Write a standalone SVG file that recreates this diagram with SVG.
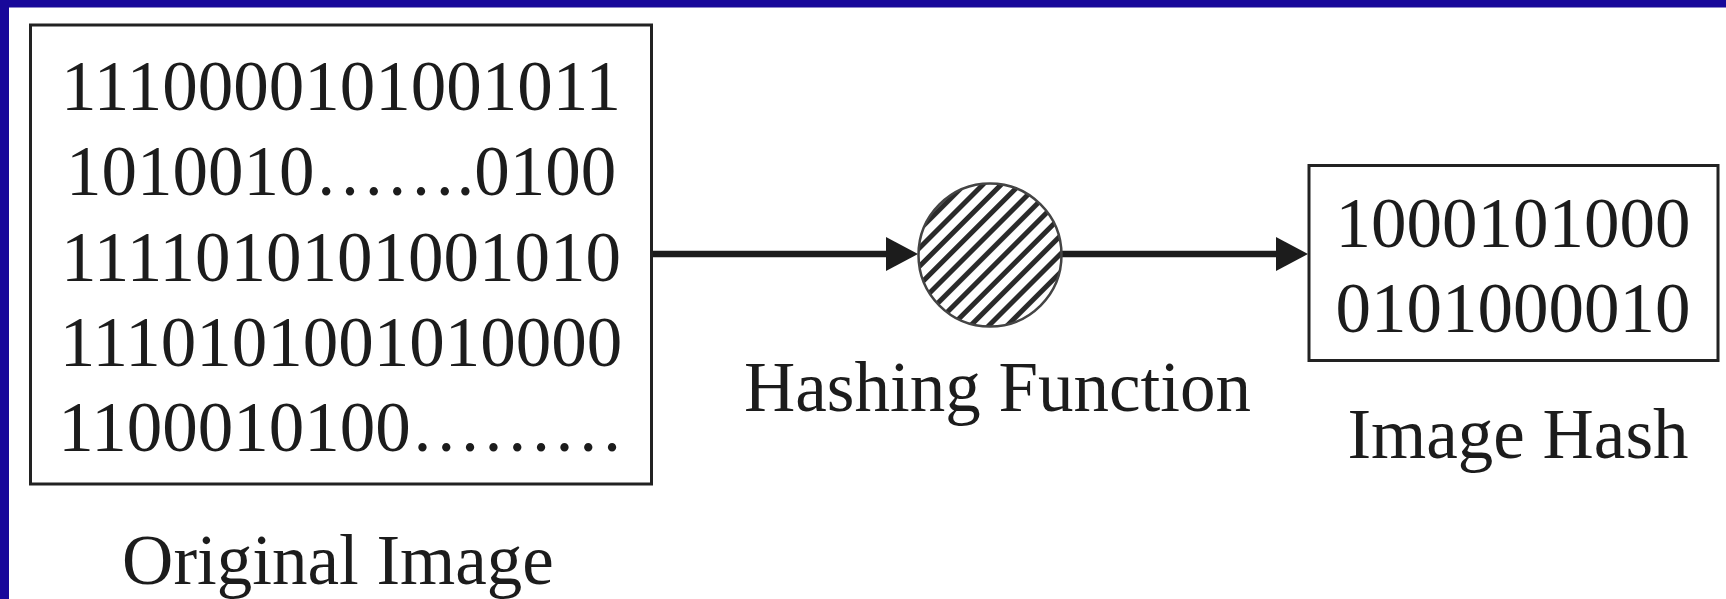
<svg xmlns="http://www.w3.org/2000/svg" width="1726" height="599" viewBox="0 0 1726 599">
  <style>
    .txt { font-family: "Liberation Serif", "Times New Roman", serif; font-size: 71px; fill: #1c1c1c; text-anchor: middle; }
    .box { fill: #ffffff; stroke: #222222; stroke-width: 3; }
    .edge { fill: none; stroke: #1c1c1c; stroke-width: 6.5; }
  </style>
  <defs>
    <marker id="arrowhead" viewBox="0 0 32 34" refX="12" refY="17" markerWidth="32" markerHeight="34" markerUnits="userSpaceOnUse" orient="auto">
      <path d="M0,0 L32,17 L0,34 Z" fill="#1c1c1c"/>
    </marker>
    <pattern id="hatch" width="13" height="13" patternUnits="userSpaceOnUse" patternTransform="rotate(45)">
      <rect width="13" height="13" fill="#ffffff"/>
      <line x1="6.5" y1="0" x2="6.5" y2="13" stroke="#2a2a2a" stroke-width="5"/>
    </pattern>
  </defs>

  <!-- page background with frame bands -->
  <rect x="0" y="0" width="1726" height="599" fill="#ffffff"/>
  <rect x="0" y="0" width="1726" height="7.5" fill="#18089a"/>
  <rect x="0" y="0" width="9" height="599" fill="#18089a"/>

  <!-- connectors -->
  <g id="connectors">
    <path class="edge" d="M653,254 H898" marker-end="url(#arrowhead)"/>
    <path class="edge" d="M1062,254 H1288" marker-end="url(#arrowhead)"/>
  </g>

  <!-- source bitmap -->
  <g id="original-image">
    <rect class="box" x="30.5" y="25" width="621" height="459"/>
    <text class="txt" x="341" y="110">1110000101001011</text>
    <text class="txt" x="341" y="195">1010010…….0100</text>
    <text class="txt" x="341" y="280.5">1111010101001010</text>
    <text class="txt" x="341" y="365.5">1110101001010000</text>
    <text class="txt" x="341" y="451">1100010100………</text>
    <text class="txt" x="338" y="584">Original Image</text>
  </g>

  <!-- hashing function -->
  <g id="hashing-function">
    <circle cx="990" cy="255" r="71.5" fill="url(#hatch)" stroke="#444444" stroke-width="2.5"/>
    <text class="txt" x="997.5" y="411">Hashing Function</text>
  </g>

  <!-- resulting hash -->
  <g id="image-hash">
    <rect class="box" x="1309" y="165.5" width="409" height="195"/>
    <text class="txt" x="1513" y="247">1000101000</text>
    <text class="txt" x="1513" y="332">0101000010</text>
    <text class="txt" x="1518" y="458">Image Hash</text>
  </g>
</svg>
